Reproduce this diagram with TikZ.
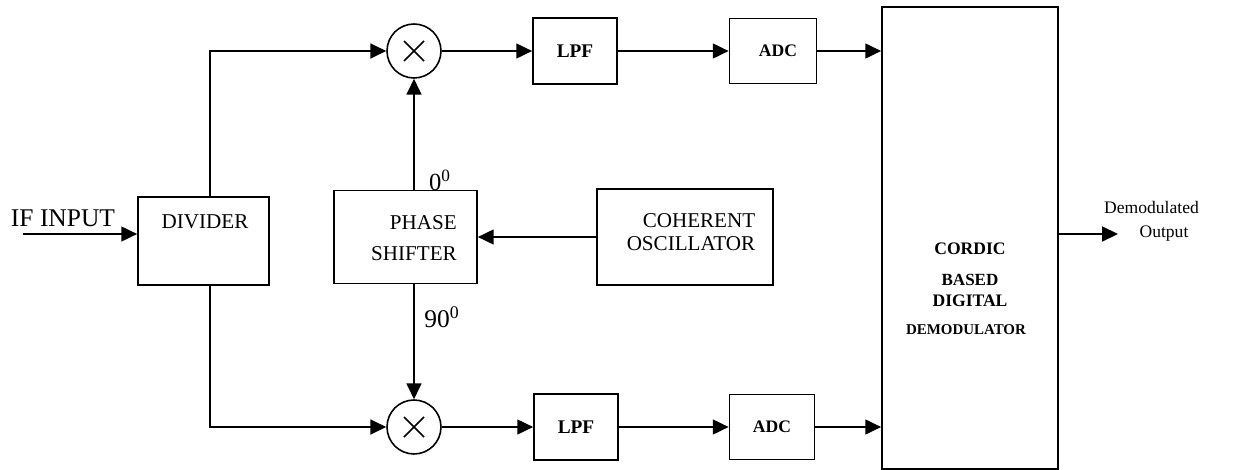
\documentclass[tikz,border=0pt]{standalone}
\usepackage{fontspec}
\setmainfont{Liberation Serif}
\usetikzlibrary{arrows.meta,positioning,calc}

\newcommand{\fs}[1]{\fontsize{#1}{1.2\dimexpr#1pt\relax}\selectfont}

\begin{document}
\begin{tikzpicture}[x=0.02cm,y=-0.02cm,>={Triangle[length=9pt,width=8.5pt]},line width=0.9pt,
  blk/.style={draw,line width=1pt,inner sep=0pt},
  mixer/.style={draw,circle,minimum size=1.08cm,inner sep=0pt}]
  \useasboundingbox (0,0) rectangle (1249,470);
  % input side
  \coordinate (in) at (23,234);
  \node[font=\fs{14.5}] (intxt) at (63,218) {IF INPUT};
  \node[blk,minimum width=2.62cm,minimum height=1.76cm] (div) at (203.5,241) {};
  \node[font=\fs{12}] (divtxt) at (205,222) {DIVIDER};
  % local oscillator branch
  \node[blk,minimum width=2.86cm,minimum height=1.86cm] (ps) at (405.5,237) {};
  \node[align=right,font=\fs{12}] (pstxt) at (414,238) {PHASE\\[3.5pt]SHIFTER};
  \node[blk,minimum width=3.52cm,minimum height=1.92cm] (osc) at (685,237) {};
  \node[align=right,font=\fontsize{12}{13}\selectfont] (osctxt) at (691,232.5) {COHERENT\\OSCILLATOR};
  \node[font=\fs{14}] (lbl0) at (440,180) {0\textsuperscript{0}};
  \node[font=\fs{14.5}] (lbl90) at (442,317) {90\textsuperscript{0}};
  % mixers
  \node[mixer] (mu1) at (414,51) {};
  \node[mixer] (mu2) at (414,427) {};
  \foreach \m in {mu1,mu2}
    \draw (\m.center) ++(-10,-10) -- ++(20,20) ++(0,-20) -- ++(-20,20);
  % filters and converters
  \node[blk,minimum width=1.68cm,minimum height=1.32cm,font=\bfseries\fs{11}] (lpf1) at (575,51) {LPF};
  \node[blk,minimum width=1.68cm,minimum height=1.32cm,font=\bfseries\fs{11}] (lpf2) at (576,427) {LPF};
  \node[blk,minimum width=1.74cm,minimum height=1.3cm] (adc1) at (773,51) {};
  \node[font=\bfseries\fs{10}] (adc1txt) at (778,51) {ADC};
  \node[blk,minimum width=1.7cm,minimum height=1.3cm,font=\bfseries\fs{10}] (adc2) at (772,427) {ADC};
  % demodulator
  \node[blk,minimum width=3.52cm,minimum height=9.24cm] (cd) at (970,238) {};
  \node[font=\bfseries\fs{10}] (cd1) at (970,249) {CORDIC};
  \node[font=\bfseries\fs{9.7}] (cd2) at (970,280) {BASED};
  \node[font=\bfseries\fs{10}] (cd3) at (970,301) {DIGITAL};
  \node[font=\bfseries\fs{8.5}] (cd4) at (966,330) {DEMODULATOR};
  \coordinate (out) at (1118,234);
  \node[font=\fs{10}] (outtxt1) at (1151.5,207) {Demodulated};
  \node[font=\fs{10}] (outtxt2) at (1164,234) {Output};
  % connectors
  \draw[->] (in) -- (in -| div.west);
  \draw[->] ([xshift=0.13cm]div.north) |- (mu1);
  \draw[->] ([xshift=0.13cm]div.south) |- (mu2);
  \draw[->] (ps.north -| mu1) -- (mu1);
  \draw[->] (ps.south -| mu2) -- (mu2);
  \draw[->] (osc) -- (ps);
  \draw[->] (mu1) -- (lpf1);
  \draw[->] (lpf1) -- (adc1);
  \draw[->] (adc1) -- (adc1 -| cd.west);
  \draw[->] (mu2) -- (lpf2);
  \draw[->] (lpf2) -- (adc2);
  \draw[->] (adc2) -- (adc2 -| cd.west);
  \draw[->] (out -| cd.east) -- (out);
\end{tikzpicture}
\end{document}
